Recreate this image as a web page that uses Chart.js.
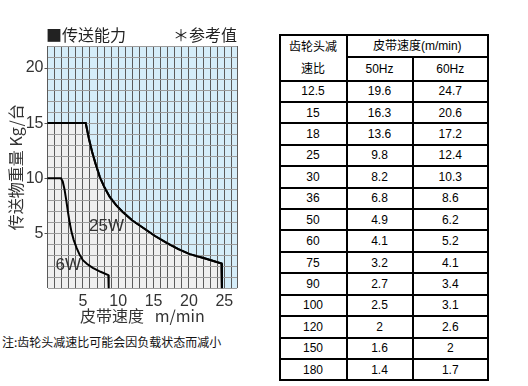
<!DOCTYPE html>
<html><head><meta charset="utf-8">
<script src="https://cdn.jsdelivr.net/npm/chart.js@4.4.1/dist/chart.umd.min.js"></script>
<style>
html,body{margin:0;padding:0;background:#fff;}
#wrap{position:relative;width:528px;height:386px;overflow:hidden;background:#fff;}
#c{position:absolute;left:0;top:0;}
.ttl{position:absolute;top:25px;font-size:16px;line-height:18px;font-family:"Noto Sans CJK SC",sans-serif;color:#222;white-space:nowrap;}
#t1{left:46px;}
#t2{right:291px;}
#note{position:absolute;left:2px;top:334px;font-size:12px;line-height:16px;font-family:"Noto Sans CJK SC",sans-serif;color:#111;white-space:nowrap;}
#tbl{position:absolute;left:278.5px;top:33.5px;border-collapse:collapse;table-layout:fixed;font-size:12px;font-family:"Liberation Sans","Noto Sans CJK SC",sans-serif;color:#000;}
#tbl td{border:2px solid #000;text-align:center;padding:0;line-height:14px;}
#tbl td.hd{line-height:22px;vertical-align:middle;}
</style>
</head><body>
<div id="wrap">
<canvas id="c" width="250" height="330"></canvas>
<div class="ttl" id="t1">■传送能力</div>
<div class="ttl" id="t2">＊参考值</div>
<div id="note">注:齿轮头减速比可能会因负载状态而减小</div>
<table id="tbl"></table>
</div>
<script>
// ---- chart data ----
const speed25W = [0, 5.4, 5.85, 6.3, 6.8, 7.4, 8.1, 8.8, 9.7, 10.6, 12.0, 13.5, 15.2, 16.9, 18.5, 20.1, 22.3, 24.6, 24.65];
const load25W  = [15, 15, 13.6, 12.4, 11.3, 10.1, 9.1, 8.3, 7.55, 6.95, 6.15, 5.5, 4.75, 4.1, 3.55, 3.1, 2.7, 2.25, 0];
const speed6W  = [0, 1.9, 2.15, 2.4, 2.65, 2.9, 3.15, 3.4, 3.7, 4.1, 4.5, 5.0, 5.6, 6.4, 7.5, 8.6, 8.65];
const load6W   = [10, 10, 9.7, 9.0, 8.0, 6.9, 5.9, 5.1, 4.4, 3.7, 3.1, 2.55, 2.2, 1.85, 1.5, 1.2, 0];
const curveNames = ['25W', '6W'];
const xTickLabels = [5, 10, 15, 20, 25];
const yTickLabels = [5, 10, 15, 20];

// ---- table data ----
const gearRatios = ['12.5', '15', '18', '25', '30', '36', '50', '60', '75', '90', '100', '120', '150', '180'];
const speed50Hz  = ['19.6', '16.3', '13.6', '9.8', '8.2', '6.8', '4.9', '4.1', '3.2', '2.7', '2.5', '2', '1.6', '1.4'];
const speed60Hz  = ['24.7', '20.6', '17.2', '12.4', '10.3', '8.6', '6.2', '5.2', '4.1', '3.4', '3.1', '2.6', '2', '1.7'];
const tableHead1 = ['齿轮头减', '速比'];
const tableHead2 = '皮带速度(m/min)';
const freqLabels = ['50Hz', '60Hz'];

// build table
(function(){
  const t = document.getElementById('tbl');
  let h = '<colgroup><col style="width:67px"><col style="width:66px"><col style="width:75.5px"></colgroup>';
  h += '<tr style="height:21px"><td class="hd" rowspan="2">' + tableHead1.join('<br>') + '</td><td colspan="2">' + tableHead2 + '</td></tr>';
  h += '<tr style="height:21.3px"><td>' + freqLabels[0] + '</td><td>' + freqLabels[1] + '</td></tr>';
  for (let i = 0; i < gearRatios.length; i++) {
    h += '<tr style="height:21.43px"><td>' + gearRatios[i] + '</td><td>' + speed50Hz[i] + '</td><td>' + speed60Hz[i] + '</td></tr>';
  }
  t.innerHTML = h;
})();

const toPts = (xs, ys) => xs.map((x, i) => ({x: x, y: ys[i]}));
const labelAnchors = [[8.35, 5.6], [2.95, 2.1]];

const plotDeco = {
  id: 'plotDeco',
  beforeDatasetsDraw(chart) {
    const {ctx, chartArea: a} = chart;
    ctx.save();
    ctx.fillStyle = '#d5edf9';
    ctx.fillRect(a.left, a.top, a.right - a.left, a.bottom - a.top);
    ctx.restore();
  },
  afterDraw(chart) {
    const ctx = chart.ctx;
    chart.data.datasets.forEach((d, i) => {
      const meta = chart.getDatasetMeta(i);
      ctx.save();
      meta.dataset.draw(ctx, chart.chartArea);
      ctx.restore();
    });
    const xs = chart.scales.x, ys = chart.scales.y;
    ctx.save();
    ctx.font = '17px "Liberation Sans"';
    ctx.fillStyle = '#333';
    ctx.textAlign = 'center';
    ctx.textBaseline = 'middle';
    curveNames.forEach((n, i) => {
      ctx.fillText(n, xs.getPixelForValue(labelAnchors[i][0]), ys.getPixelForValue(labelAnchors[i][1]));
    });
    ctx.restore();
  }
};

const tickFont = {family: '"Liberation Sans"', size: 16};
new Chart(document.getElementById('c'), {
  type: 'line',
  data: {
    datasets: [
      {label: curveNames[0], data: toPts(speed25W, load25W), borderColor: '#000', borderWidth: 2, pointRadius: 0, fill: 'origin', backgroundColor: '#efefef', tension: 0},
      {label: curveNames[1], data: toPts(speed6W, load6W), borderColor: '#000', borderWidth: 2, pointRadius: 0, fill: false, tension: 0}
    ]
  },
  options: {
    responsive: false,
    animation: false,
    events: [],
    layout: {autoPadding: false, padding: {left: 0, top: 46, right: 12.9, bottom: 4.2}},
    plugins: {legend: {display: false}, tooltip: {enabled: false}},
    scales: {
      x: {
        type: 'linear', min: 0, max: 26.8,
        afterBuildTicks: s => { const t = []; for (let v = s.min; v <= s.max; v += 1) t.push({value: v}); if (t[t.length-1].value !== s.max) t.push({value: s.max}); s.ticks = t; },
        afterFit: s => { s.height = 37.5; },
        ticks: {autoSkip: false, maxRotation: 0, padding: 4, font: tickFont, color: '#333', callback: v => xTickLabels.includes(v) ? String(v) : ''},
        grid: {color: '#5a5a5a', lineWidth: 1, drawTicks: false, z: 1},
        border: {display: false},
        title: {display: true, text: '皮带速度   m/min', color: '#333', font: {family: '"Noto Sans CJK SC"', size: 16}, padding: 0}
      },
      y: {
        min: 0, max: 22,
        afterFit: s => { s.width = 47.5; },
        ticks: {stepSize: 1, autoSkip: false, padding: 1, font: tickFont, color: '#333', callback: v => yTickLabels.includes(v) ? String(v) : ''},
        grid: {color: '#9c9c9c', lineWidth: 1, tickLength: 3, tickColor: c => (c.tick && yTickLabels.includes(c.tick.value)) ? '#555' : 'rgba(0,0,0,0)', z: 1},
        border: {display: false},
        title: {display: true, text: '传送物重量 Kg/台', color: '#333', font: {family: '"Noto Sans CJK SC"', size: 16}, padding: {top: 6, bottom: 0}}
      }
    }
  },
  plugins: [plotDeco]
});
</script>
</body></html>
